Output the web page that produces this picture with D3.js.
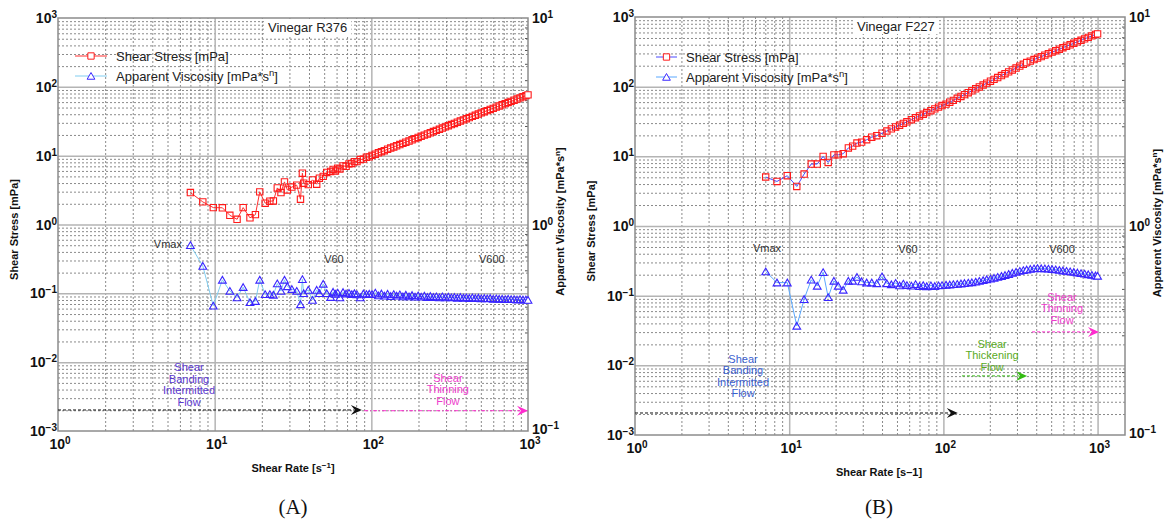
<!DOCTYPE html>
<html>
<head>
<meta charset="utf-8">
<script src="https://cdn.jsdelivr.net/npm/d3@7"></script>
<style>
  body { margin: 0; background: #fff; }
  svg { display: block; font-family: "Liberation Sans", Arial, Helvetica, sans-serif; }
</style>
</head>
<body>
<svg id="chart" width="1175" height="524"></svg>
<script>
// ---- Panel A: Vinegar R376 ----
const rateA = [7.0, 8.4, 9.8, 11.2, 12.5, 13.9, 15.2, 16.8, 18.2, 19.4, 21.0, 22.5, 23.7, 25.1, 26.5, 27.9, 29.1, 31.1, 33.4, 35.3,
  36.3, 37.0, 39.6, 42.1, 44.8, 46.6, 49.3, 51.9,
  55, 57, 59, 61, 63, 66, 69, 72, 75, 78, 81, 85, 89, 93, 97, 101, 106, 111, 116, 121, 127, 133, 139, 145, 152, 159, 166,
  174, 182, 190, 199, 208, 218, 228, 238, 249, 260, 272, 284, 297, 310, 324, 339, 354, 370, 387, 404, 422, 441, 461, 482,
  503, 526, 549, 574, 600, 627, 655, 684, 715, 747, 780, 815, 851, 889, 929, 970, 1000];
const stressA = [2.91, 2.13, 1.76, 1.75, 1.36, 1.19, 1.76, 1.25, 1.39, 2.98, 2.04, 2.18, 2.2, 3.4, 2.91, 4.16, 3.18, 3.5, 3.73, 2.33,
  5.56, 3.98, 3.8, 4.45, 3.85, 4.71, 5.0, 5.7,
  5.9, 6.3, 6.0, 6.6, 6.4, 7.1, 7.0, 7.6, 7.7, 8.2, 8.2, 8.8, 8.9, 9.5, 9.6, 10.1, 10.5, 11.0, 11.4, 11.8, 12.4, 12.9, 13.4, 13.9, 14.5, 15.1, 15.7,
  16.3, 17.0, 17.7, 18.4, 19.1, 19.9, 20.7, 21.5, 22.4, 23.3, 24.2, 25.2, 26.2, 27.2, 28.3, 29.4, 30.6, 31.8, 33.1, 34.4, 35.7, 37.2, 38.6, 40.2,
  41.8, 43.5, 45.1, 46.9, 48.7, 50.7, 52.7, 54.8, 57.0, 59.2, 61.5, 63.9, 66.4, 69.1, 71.8, 74.6, 76.5];
const viscA = [0.5, 0.25, 0.066, 0.157, 0.108, 0.087, 0.123, 0.074, 0.077, 0.157, 0.097, 0.097, 0.095, 0.139, 0.108, 0.157, 0.126, 0.115, 0.108, 0.069,
  0.16, 0.1, 0.112, 0.08, 0.112, 0.1, 0.137, 0.1,
  0.088, 0.105, 0.098, 0.102, 0.087, 0.104, 0.099, 0.101, 0.097, 0.1, 0.096, 0.087, 0.099, 0.097, 0.098, 0.097, 0.102, 0.093, 0.099, 0.092, 0.098, 0.091, 0.097, 0.092, 0.096, 0.09, 0.095,
  0.09, 0.094, 0.089, 0.093, 0.089, 0.092, 0.088, 0.091, 0.088, 0.09, 0.087, 0.09, 0.087, 0.089, 0.087, 0.088, 0.086, 0.088, 0.086, 0.087, 0.085, 0.087, 0.085, 0.086,
  0.084, 0.085, 0.084, 0.085, 0.083, 0.084, 0.083, 0.083, 0.082, 0.083, 0.082, 0.082, 0.081, 0.082, 0.081, 0.081, 0.08];

// ---- Panel B: Vinegar F227 ----
const rateB = [7.04, 8.33, 9.72, 11.2, 12.5, 13.9, 15.2, 16.6, 17.9, 19.5, 20.8, 22.4, 24.2, 25.8, 27.5, 29.5, 31.8, 34.3, 37.0,
  40, 43, 46, 49, 52, 55, 58, 62, 66, 70, 74, 78, 83, 88, 93, 98, 104, 110, 116, 123, 130, 137, 145, 153, 162, 171, 181, 191,
  202, 213, 225, 238, 251, 265, 280, 296, 313, 330, 347, 366, 387, 408, 431, 455, 480, 507, 535, 565, 596, 629, 664, 701,
  740, 781, 824, 870, 918, 969, 1000];
const stressB = [5.05, 4.36, 5.27, 3.7, 5.57, 7.75, 7.75, 9.97, 8.17, 10.5, 10.5, 10.9, 13.2, 14.0, 15.5, 16.0, 17.3, 18.8, 19.8,
  21.5, 23.1, 24.8, 26.4, 28.0, 29.7, 31.3, 33.6, 35.8, 38.0, 40.2, 42.5, 45.2, 48.0, 50.8, 53.6, 56.2, 59.8, 63.6, 68.0, 72.4, 76.9, 82.0, 87.3, 93.2, 99.0, 105.7, 112.3,
  119.7, 127.1, 135.3, 144.5, 153.5, 163.0, 173.8, 185.0, 197.3, 209.7, 221.8, 232.8, 245.0, 257.0, 269.8, 283.6, 297.7, 312.9, 328.2, 345.1, 362.2, 380.5, 399.4, 419.6,
  440.6, 462.6, 485.5, 510.3, 535.6, 562.3, 572];
const viscB = [0.222, 0.154, 0.154, 0.0368, 0.089, 0.169, 0.138, 0.217, 0.095, 0.163, 0.138, 0.121, 0.163, 0.163, 0.185, 0.16, 0.154, 0.154, 0.15,
  0.188, 0.15, 0.145, 0.152, 0.14, 0.148, 0.141, 0.139, 0.146, 0.137, 0.141, 0.136, 0.14, 0.137, 0.14, 0.141, 0.143, 0.144, 0.146, 0.147, 0.149, 0.151, 0.153, 0.155, 0.158, 0.162, 0.166, 0.171,
  0.175, 0.18, 0.185, 0.191, 0.197, 0.204, 0.212, 0.219, 0.226, 0.232, 0.236, 0.241, 0.245, 0.247, 0.246, 0.245, 0.243, 0.24, 0.237, 0.233, 0.229, 0.226, 0.222, 0.218,
  0.214, 0.21, 0.206, 0.202, 0.198, 0.194, 0.192];

// highlighted (white filled) markers
const whiteRatesA = [1000];
const whiteRatesB = [347, 1000];

// tick exponents
const rateExps = [0, 1, 2, 3];
const stressExps = [-3, -2, -1, 0, 1, 2, 3];
const viscExps = [-1, 0, 1];

const svg = d3.select('#chart');
const FONT_TICK = 14;
const FONT_SUP = 10;

function powText(sel, base, exp, size) {
  sel.append('tspan').text(base);
  sel.append('tspan')
    .attr('dy', -5)
    .attr('font-size', size)
    .text(exp < 0 ? '\u2212' + (-exp) : String(exp));
}

function minorValues(lo, hi, max) {
  const out = [];
  for (let e = lo; e < hi; e++) {
    for (let m = 2; m <= 9; m++) {
      const v = m * Math.pow(10, e);
      if (v < max) out.push(v);
    }
  }
  return out;
}

function arrowHead(g, x, y, color) {
  g.append('path')
    .attr('d', `M${x},${y} L${x - 11},${y - 5} L${x - 7},${y} L${x - 11},${y + 5} Z`)
    .attr('fill', color);
}

function drawPanel(p) {
  const x = d3.scaleLog().domain(p.xDomain).range([p.left, p.right]);
  const y = d3.scaleLog().domain([1e-3, 1e3]).range([p.bottom, p.top]);
  const y2 = d3.scaleLog().domain([1e-1, 1e1]).range([p.bottom, p.top]);
  const w = p.right - p.left;
  const h = p.bottom - p.top;
  const g = svg.append('g');

  // grid lines - minor dotted, major solid
  const xMinor = minorValues(0, 4, p.xDomain[1]);
  const yMinor = minorValues(-3, 3, 1e3);
  const xMajor = rateExps.map(e => Math.pow(10, e)).filter(v => v > p.xDomain[0] && v < p.xDomain[1]);
  const yMajor = stressExps.map(e => Math.pow(10, e)).filter(v => v > 1e-3 && v < 1e3);

  g.append('g')
    .attr('transform', `translate(0,${p.bottom})`)
    .call(d3.axisBottom(x).tickValues(xMinor).tickSize(-h).tickFormat(''))
    .call(s => s.select('.domain').remove())
    .call(s => s.selectAll('line').attr('stroke', '#8a8a8a').attr('stroke-dasharray', '2,2'));
  g.append('g')
    .attr('transform', `translate(${p.left},0)`)
    .call(d3.axisLeft(y).tickValues(yMinor).tickSize(-w).tickFormat(''))
    .call(s => s.select('.domain').remove())
    .call(s => s.selectAll('line').attr('stroke', '#8a8a8a').attr('stroke-dasharray', '2,2'));
  g.append('g')
    .attr('transform', `translate(0,${p.bottom})`)
    .call(d3.axisBottom(x).tickValues(xMajor).tickSize(-h).tickFormat(''))
    .call(s => s.select('.domain').remove())
    .call(s => s.selectAll('line').attr('stroke', '#b4b4b4').attr('stroke-width', 1.5));
  g.append('g')
    .attr('transform', `translate(${p.left},0)`)
    .call(d3.axisLeft(y).tickValues(yMajor).tickSize(-w).tickFormat(''))
    .call(s => s.select('.domain').remove())
    .call(s => s.selectAll('line').attr('stroke', '#b4b4b4').attr('stroke-width', 1.5));

  // right axis inward ticks
  g.append('g')
    .attr('transform', `translate(${p.right},0)`)
    .call(d3.axisLeft(y2).tickValues(minorValues(-1, 1, 10)).tickSize(3).tickFormat(''))
    .call(s => s.select('.domain').remove())
    .call(s => s.selectAll('line').attr('stroke', '#555'));

  // frame
  g.append('rect')
    .attr('x', p.left).attr('y', p.top)
    .attr('width', w).attr('height', h)
    .attr('fill', 'none').attr('stroke', '#8c8c8c').attr('stroke-width', 1.5);

  // tick labels
  rateExps.forEach(e => {
    const t = g.append('text')
      .attr('x', x(Math.pow(10, e)) + 2).attr('y', p.bottom + 18)
      .attr('text-anchor', 'middle').attr('font-size', FONT_TICK).attr('font-weight', 'bold').attr('fill', '#111');
    powText(t, '10', e, FONT_SUP);
  });
  stressExps.forEach(e => {
    const t = g.append('text')
      .attr('x', p.left - 1).attr('y', y(Math.pow(10, e)) + 5)
      .attr('text-anchor', 'end').attr('font-size', FONT_TICK).attr('font-weight', 'bold').attr('fill', '#111');
    powText(t, '10', e, FONT_SUP);
  });
  viscExps.forEach(e => {
    const t = g.append('text')
      .attr('x', p.right + 4).attr('y', y2(Math.pow(10, e)) + (e < 0 ? 3 : 5))
      .attr('text-anchor', 'start').attr('font-size', FONT_TICK).attr('font-weight', 'bold').attr('fill', '#111');
    powText(t, '10', e, FONT_SUP);
  });

  // axis titles
  g.append('text')
    .attr('transform', `translate(${p.left - 40},${(p.top + p.bottom) / 2 + 5}) rotate(-90)`)
    .attr('text-anchor', 'middle').attr('font-size', 11).attr('font-weight', 'bold').attr('fill', '#111')
    .text('Shear Stress [mPa]');
  const rt = g.append('text')
    .attr('transform', `translate(${p.right + 36},${(p.top + p.bottom) / 2 - 3}) rotate(-90)`)
    .attr('text-anchor', 'middle').attr('font-size', 11).attr('font-weight', 'bold').attr('fill', '#111');
  rt.append('tspan').text('Apparent Viscosity [mPa*s');
  rt.append('tspan').attr('dy', -4).attr('font-size', 8).text('n');
  rt.append('tspan').attr('dy', 4).text(']');

  const xt = g.append('text')
    .attr('x', (p.left + p.right) / 2 + p.xTitleShift).attr('y', p.bottom + 41)
    .attr('text-anchor', 'middle').attr('font-size', 11).attr('font-weight', 'bold').attr('fill', '#111');
  if (p.xTitleSup) {
    xt.append('tspan').text('Shear Rate [s');
    xt.append('tspan').attr('dy', -4).attr('font-size', 8).text('\u22121');
    xt.append('tspan').attr('dy', 4).text(']');
  } else {
    xt.text('Shear Rate [s\u20131]');
  }

  // series
  const stressPts = p.rate.map((r, i) => [r, p.stress[i]]);
  const viscPts = p.rate.map((r, i) => [r, p.visc[i]]);
  const line = d3.line().x(d => x(d[0])).y(d => y(d[1]));

  g.append('path').datum(stressPts).attr('d', line)
    .attr('fill', 'none').attr('stroke', p.stressLine).attr('stroke-width', 1);
  g.append('path').datum(viscPts).attr('d', line)
    .attr('fill', 'none').attr('stroke', p.viscLine).attr('stroke-width', 1);

  const sq = d3.symbol(d3.symbolSquare, 40);
  const tri = d3.symbol(d3.symbolTriangle, 26);

  g.append('g').selectAll('path').data(stressPts).join('path')
    .attr('d', sq)
    .attr('transform', d => `translate(${x(d[0])},${y(d[1])})`)
    .attr('fill', d => p.white.includes(d[0]) ? '#fff' : 'none')
    .attr('stroke', '#ff1a1a').attr('stroke-width', 1.1);
  g.append('g').selectAll('path').data(viscPts).join('path')
    .attr('d', tri)
    .attr('transform', d => `translate(${x(d[0])},${y(d[1]) + 1})`)
    .attr('fill', d => p.white.includes(d[0]) ? '#fff' : 'none')
    .attr('stroke', '#3a26ff').attr('stroke-width', 1.1);

  // title box
  const tb = g.append('g');
  const tt = tb.append('text')
    .attr('x', p.titleX).attr('y', p.top + 14)
    .attr('font-size', 13).attr('fill', '#222').text(p.title);
  const bb = tt.node().getBBox();
  tb.insert('rect', 'text')
    .attr('x', bb.x - 4).attr('y', p.top + 1)
    .attr('width', bb.width + 8).attr('height', 16)
    .attr('fill', '#fff');

  // legend
  const lg = g.append('g').attr('transform', `translate(${p.legX},${p.legY})`);
  lg.append('line').attr('x1', 0).attr('x2', p.legLen).attr('y1', 0).attr('y2', 0)
    .attr('stroke', p.stressLine);
  lg.append('path').attr('d', sq).attr('transform', `translate(${p.legLen / 2},0)`)
    .attr('fill', '#fff').attr('stroke', '#ff1a1a');
  lg.append('text').attr('x', p.legLen + 9).attr('y', 5).attr('font-size', 13).attr('fill', '#222')
    .text('Shear Stress [mPa]');
  lg.append('line').attr('x1', 0).attr('x2', p.legLen).attr('y1', 20).attr('y2', 20)
    .attr('stroke', p.viscLine);
  lg.append('path').attr('d', tri).attr('transform', `translate(${p.legLen / 2},21)`)
    .attr('fill', '#fff').attr('stroke', '#3a26ff');
  const l2 = lg.append('text').attr('x', p.legLen + 9).attr('y', 25).attr('font-size', 13).attr('fill', '#222');
  l2.append('tspan').text('Apparent Viscosity [mPa*s');
  l2.append('tspan').attr('dy', -5).attr('font-size', 9.5).text('n');
  l2.append('tspan').attr('dy', 5).text(']');

  // text annotations
  p.notes.forEach(n => {
    const t = g.append('text')
      .attr('x', x(n.x)).attr('y', y(n.y) + 4)
      .attr('text-anchor', 'middle').attr('font-size', 11).attr('fill', n.color);
    n.lines.forEach((s, i) => {
      t.append('tspan').attr('x', x(n.x)).attr('dy', i === 0 ? 0 : 11.5).text(s);
    });
  });

  // flow arrows
  p.arrows.forEach(a => {
    const x1 = x(a.from), x2 = x(a.to), yy = y(a.y);
    g.append('line')
      .attr('x1', x1).attr('x2', x2 - 8).attr('y1', yy).attr('y2', yy)
      .attr('stroke', a.color).attr('stroke-width', 1)
      .attr('stroke-dasharray', a.dash);
    arrowHead(g, x2, yy, a.color);
  });

  // panel label
  svg.append('text')
    .attr('x', (p.left + p.right) / 2 + p.xTitleShift).attr('y', 514)
    .attr('text-anchor', 'middle')
    .attr('font-family', '"Liberation Serif", "DejaVu Serif", serif')
    .attr('font-size', 21).attr('fill', '#111')
    .text(p.label);
}

drawPanel({
  left: 58, right: 528, top: 18, bottom: 431,
  xDomain: [1, 1000], xTitleShift: 0, xTitleSup: true,
  rate: rateA, stress: stressA, visc: viscA, white: whiteRatesA,
  stressLine: '#ff3030', viscLine: '#80cdf0',
  title: 'Vinegar R376', titleX: 268,
  legX: 75, legY: 56, legLen: 32,
  label: '(A)',
  notes: [
    { x: 5.03, y: 0.52, lines: ['Vmax'], color: '#333' },
    { x: 57.7, y: 0.316, lines: ['V60'], color: '#333' },
    { x: 588, y: 0.316, lines: ['V600'], color: '#333' },
    { x: 6.86, y: 0.0085, lines: ['Shear', 'Banding', 'Intermitted', 'Flow'], color: '#5c38d0' },
    { x: 308, y: 0.0059, lines: ['Shear', 'Thinning', 'Flow'], color: '#ee3ccc' }
  ],
  arrows: [
    { from: 1, to: 87, y: 0.00202, color: '#111', dash: '3,2' },
    { from: 90, to: 1000, y: 0.00197, color: '#ff2ccf', dash: '4,2,1,2' }
  ]
});

drawPanel({
  left: 635, right: 1125, top: 17, bottom: 435,
  xDomain: [1, 1506], xTitleShift: -1, xTitleSup: false,
  rate: rateB, stress: stressB, visc: viscB, white: whiteRatesB,
  stressLine: '#4a4aff', viscLine: '#5aa8ff',
  title: 'Vinegar F227', titleX: 857,
  legX: 656, legY: 57, legLen: 21,
  label: '(B)',
  notes: [
    { x: 7.18, y: 0.487, lines: ['Vmax'], color: '#333' },
    { x: 58.9, y: 0.47, lines: ['V60'], color: '#333' },
    { x: 588, y: 0.47, lines: ['V600'], color: '#333' },
    { x: 5.02, y: 0.0124, lines: ['Shear', 'Banding', 'Intermitted', 'Flow'], color: '#3b5fd0' },
    { x: 207, y: 0.0203, lines: ['Shear', 'Thickening', 'Flow'], color: '#5aab1e' },
    { x: 588, y: 0.0962, lines: ['Shear', 'Thinning', 'Flow'], color: '#ee3ccc' }
  ],
  arrows: [
    { from: 1, to: 124, y: 0.00207, color: '#111', dash: '3,2' },
    { from: 132, to: 349, y: 0.00705, color: '#33bb11', dash: '3,2' },
    { from: 376, to: 1021, y: 0.0302, color: '#ff2ccf', dash: '3,2' }
  ]
});
</script>
</body>
</html>
